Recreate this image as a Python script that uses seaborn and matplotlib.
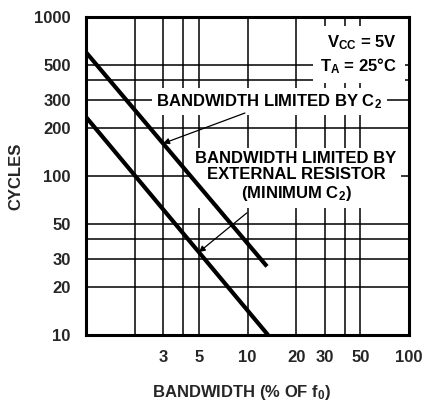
"""Bandwidth vs cycles chart (log-log)."""

import matplotlib
matplotlib.use('Agg')
import matplotlib.pyplot as plt
import numpy as np
import pandas as pd
import seaborn as sns

# Data
bandwidth_c2 = [1.0, 13.2]          # % of f0, line "limited by C2"
cycles_c2 = [600.0, 27.0]
bandwidth_res = [1.0, 13.4]         # % of f0, line "limited by external resistor"
cycles_res = [235.0, 10.0]

x_major = [3, 5, 10, 20, 30, 50, 100]
x_labels = ['3', '5', '10', '20', '30', '50', '100']
x_minor = [2, 4, 40]
y_major = [10, 20, 30, 50, 100, 200, 300, 500, 1000]
y_labels = ['10', '20', '30', '50', '100', '200', '300', '500', '1000']
y_minor = [40, 400]

sns.set_theme(style='white')
plt.rcParams['font.family'] = ['Liberation Sans', 'DejaVu Sans']
plt.rcParams['font.weight'] = 'bold'
plt.rcParams['mathtext.fontset'] = 'custom'
plt.rcParams['mathtext.rm'] = 'Liberation Sans:bold'
plt.rcParams['mathtext.it'] = 'Liberation Sans:bold'
plt.rcParams['mathtext.bf'] = 'Liberation Sans:bold'
plt.rcParams['mathtext.default'] = 'regular'


def line_at(xs, ys, x):
    # value of a straight log-log line at x
    lx, ly = np.log10(xs), np.log10(ys)
    return 10 ** np.interp(np.log10(x), lx, ly)


df = pd.concat([
    pd.DataFrame({'bw': bandwidth_c2, 'cycles': cycles_c2, 'curve': 'c2'}),
    pd.DataFrame({'bw': bandwidth_res, 'cycles': cycles_res, 'curve': 'res'}),
])

fig = plt.figure(figsize=(4.24, 4.07), dpi=100)
ax = fig.add_axes([86 / 424, 1 - 335 / 407, 323 / 424, 318 / 407])

sns.lineplot(data=df, x='bw', y='cycles', units='curve', estimator=None,
             color='black', lw=3.0, solid_capstyle='butt', ax=ax, zorder=4)

ax.set_xscale('log')
ax.set_yscale('log')
ax.set_xlim(1, 100)
ax.set_ylim(10, 1000)

ax.set_xticks(x_major, x_labels)
ax.set_xticks(x_minor, minor=True)
ax.set_yticks(y_major, y_labels)
ax.set_yticks(y_minor, minor=True)
ax.tick_params(which='both', length=0)
ax.tick_params(axis='x', pad=11, labelsize=12)
ax.tick_params(axis='y', pad=11, labelsize=12)
ax.grid(True, which='both', color='black', lw=1.1)
ax.set_axisbelow(True)
for s in ax.spines.values():
    s.set_color('black')
    s.set_linewidth(2.2)
    s.set_zorder(5)

ax.set_xlabel('')
ax.set_ylabel('')

box = dict(boxstyle='square,pad=0.25', fc='white', ec='none')
txt_kw = dict(fontsize=12, fontweight='bold', color='black', zorder=3)

ax.text(0.963, 0.918, r'V$_{CC}$ = 5V', transform=ax.transAxes,
        ha='right', va='center', bbox=dict(boxstyle='square,pad=0.45', fc='white', ec='none'), **txt_kw)
ax.text(0.963, 0.846, r'T$_A$ = 25°C', transform=ax.transAxes,
        ha='right', va='center', bbox=dict(boxstyle='square,pad=0.45', fc='white', ec='none'), **txt_kw)

ax.text(0.568, 0.735, 'BANDWIDTH LIMITED BY C$_2$',
        transform=ax.transAxes, ha='center', va='center', bbox=box, **txt_kw)
ax.text(0.650, 0.497,
        'BANDWIDTH LIMITED BY\nEXTERNAL RESISTOR\n(MINIMUM C$_2$)',
        transform=ax.transAxes, ha='center', va='center', linespacing=1.15,
        bbox=box, **txt_kw)

arrow = dict(arrowstyle='-|>', color='black', lw=0.9, mutation_scale=9,
             shrinkA=0, shrinkB=0)
ax.annotate('', xy=(3, line_at(bandwidth_c2, cycles_c2, 3)), xycoords='data',
            xytext=(0.492, 0.698), textcoords='axes fraction',
            arrowprops=arrow, zorder=4)
ax.annotate('', xy=(5, line_at(bandwidth_res, cycles_res, 5)), xycoords='data',
            xytext=(0.498, 0.384), textcoords='axes fraction',
            arrowprops=arrow, zorder=4)

fig.text(16 / 424, 1 - 176 / 407, 'CYCLES', rotation=90,
         ha='center', va='center', fontsize=12, fontweight='bold')
fig.text(242 / 424, 1 - 393 / 407, 'BANDWIDTH (% OF f$_0$)',
         ha='center', va='center', fontsize=12, fontweight='bold')

fig.savefig('out.png', dpi=100)
plt.close(fig)
